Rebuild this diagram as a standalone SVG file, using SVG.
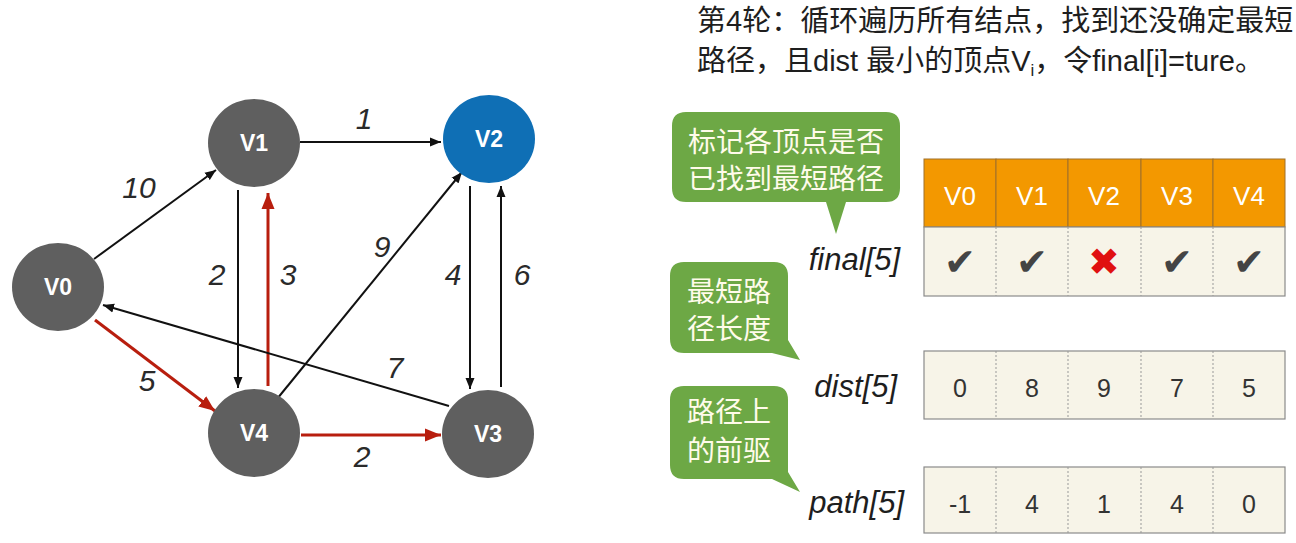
<svg xmlns="http://www.w3.org/2000/svg" width="1296" height="543" viewBox="0 0 1296 543">
<defs>
<style>
.node{fill:#5f5f5f}
.nl{font-family:"Liberation Sans",Arial,sans-serif;font-size:23px;font-weight:bold;fill:#fff;text-anchor:middle}
.e{fill:none;stroke:#111;stroke-width:2}
.er{fill:none;stroke:#B81E0E;stroke-width:3}
.el{font-family:"Liberation Sans",Arial,sans-serif;font-size:30px;font-style:italic;fill:#2a2a2a;text-anchor:middle}
.title{font-family:"Liberation Sans","Noto Sans CJK SC",sans-serif;font-size:29px;fill:#1e1e1e}
.co{fill:#6DA845}
.ct{font-family:"Noto Sans CJK SC",sans-serif;font-size:28px;fill:#FFFBEA;text-anchor:middle}
.lab{font-family:"Liberation Sans",Arial,sans-serif;font-size:31px;font-style:italic;fill:#1e1e1e;text-anchor:end}
.hd{fill:#F39800;stroke:#A0702A;stroke-width:1}
.ht{font-family:"Liberation Sans",Arial,sans-serif;font-size:26px;fill:#fff;text-anchor:middle}
.cell{fill:#F7F4E8;stroke:#8a8a8a;stroke-width:1.2}
.dv{stroke:#999;stroke-width:1;stroke-dasharray:2 2}
.v{font-family:"Liberation Sans",Arial,sans-serif;font-size:25px;fill:#333;text-anchor:middle}
.ck{font-family:"DejaVu Sans",sans-serif;font-size:38px;fill:#444;text-anchor:middle}
.x{font-family:"DejaVu Sans",sans-serif;font-size:38px;fill:#E01010;text-anchor:middle}
</style>
<marker id="ab" markerUnits="userSpaceOnUse" markerWidth="12" markerHeight="10" refX="11" refY="5" orient="auto"><path d="M0,0.5 L11,5 L0,9.5 z" fill="#111"/></marker>
<marker id="ar" markerUnits="userSpaceOnUse" markerWidth="17" markerHeight="14" refX="16" refY="7" orient="auto"><path d="M0,0.5 L16,7 L0,13.5 z" fill="#B81E0E"/></marker>
</defs>
<rect width="1296" height="543" fill="#fff"/>

<g id="connectors">
<path class="e" d="M94,259 L216,170" marker-end="url(#ab)"/>
<text class="el" x="139" y="198">10</text>
<path class="e" d="M300,142 L441,142" marker-end="url(#ab)"/>
<text class="el" x="364" y="129">1</text>
<path class="e" d="M238,190 L238,388" marker-end="url(#ab)"/>
<text class="el" x="217" y="285">2</text>
<path class="er" d="M268,386 L268,193" marker-end="url(#ar)"/>
<text class="el" x="288" y="285">3</text>
<path class="e" d="M277,399 L462,172" marker-end="url(#ab)"/>
<text class="el" x="382" y="257">9</text>
<path class="e" d="M470,186 L470,389" marker-end="url(#ab)"/>
<text class="el" x="453" y="285">4</text>
<path class="e" d="M501,387 L501,186" marker-end="url(#ab)"/>
<text class="el" x="522" y="285">6</text>
<path class="e" d="M449,406 L103,305" marker-end="url(#ab)"/>
<text class="el" x="395" y="378">7</text>
<path class="er" d="M95,320 L215,411" marker-end="url(#ar)"/>
<text class="el" x="147" y="391">5</text>
<path class="er" d="M301,435 L441,435" marker-end="url(#ar)"/>
<text class="el" x="362" y="467">2</text>
</g>

<g id="V0"><ellipse class="node" cx="58" cy="287" rx="46" ry="44"/><text class="nl" x="58" y="295">V0</text></g>
<g id="V1"><ellipse class="node" cx="254" cy="143" rx="46" ry="44"/><text class="nl" x="254" y="151">V1</text></g>
<g id="V2"><ellipse cx="489" cy="139" rx="46" ry="44" fill="#0F6FB5"/><text class="nl" x="489" y="147">V2</text></g>
<g id="V3"><ellipse class="node" cx="488" cy="434" rx="46" ry="44"/><text class="nl" x="488" y="442">V3</text></g>
<g id="V4"><ellipse class="node" cx="254" cy="433" rx="46" ry="44"/><text class="nl" x="254" y="441">V4</text></g>

<g id="title">
<text class="title" x="697" y="31">第4轮：循环遍历所有结点，找到还没确定最短</text>
<text class="title" x="697" y="71">路径，且dist 最小的顶点V<tspan font-size="17" dy="5">i</tspan><tspan dy="-5">，令final[i]=ture。</tspan></text>
</g>

<g id="callout-final">
<path class="co" d="M686,112 H886 Q900,112 900,126 V188 Q900,202 886,202 H846 L836,234 L826,202 H686 Q672,202 672,188 V126 Q672,112 686,112 Z"/>
<text class="ct" x="786" y="152">标记各顶点是否</text>
<text class="ct" x="786" y="189">已找到最短路径</text>
</g>
<g id="callout-dist">
<path class="co" d="M684,262 H774 Q788,262 788,276 V340 L800,360 L772,353 H684 Q670,353 670,339 V276 Q670,262 684,262 Z"/>
<text class="ct" x="729" y="302">最短路</text>
<text class="ct" x="729" y="339">径长度</text>
</g>
<g id="callout-path">
<path class="co" d="M684,386 H774 Q788,386 788,400 V472 L800,492 L772,479 H684 Q670,479 670,465 V400 Q670,386 684,386 Z"/>
<text class="ct" x="729" y="422">路径上</text>
<text class="ct" x="729" y="461">的前驱</text>
</g>

<g id="table-final">
<rect class="hd" x="924" y="159" width="72" height="68"/>
<rect class="hd" x="996" y="159" width="72" height="68"/>
<rect class="hd" x="1068" y="159" width="73" height="68"/>
<rect class="hd" x="1141" y="159" width="72" height="68"/>
<rect class="hd" x="1213" y="159" width="72" height="68"/>
<text class="ht" x="960" y="205">V0</text>
<text class="ht" x="1032" y="205">V1</text>
<text class="ht" x="1104" y="205">V2</text>
<text class="ht" x="1177" y="205">V3</text>
<text class="ht" x="1249" y="205">V4</text>
<rect class="cell" x="924" y="227" width="361" height="69"/>
<line class="dv" x1="996" y1="227" x2="996" y2="296"/>
<line class="dv" x1="1068" y1="227" x2="1068" y2="296"/>
<line class="dv" x1="1141" y1="227" x2="1141" y2="296"/>
<line class="dv" x1="1213" y1="227" x2="1213" y2="296"/>
<text class="ck" x="960" y="275">✔</text>
<text class="ck" x="1032" y="275">✔</text>
<text class="x" x="1104" y="275">✖</text>
<text class="ck" x="1177" y="275">✔</text>
<text class="ck" x="1249" y="275">✔</text>
<text class="lab" x="900" y="270">final[5]</text>
</g>

<g id="table-dist">
<rect class="cell" x="924" y="351" width="361" height="68"/>
<line class="dv" x1="996" y1="351" x2="996" y2="419"/>
<line class="dv" x1="1068" y1="351" x2="1068" y2="419"/>
<line class="dv" x1="1141" y1="351" x2="1141" y2="419"/>
<line class="dv" x1="1213" y1="351" x2="1213" y2="419"/>
<text class="v" x="960" y="397">0</text>
<text class="v" x="1032" y="397">8</text>
<text class="v" x="1104" y="397">9</text>
<text class="v" x="1177" y="397">7</text>
<text class="v" x="1249" y="397">5</text>
<text class="lab" x="897" y="397">dist[5]</text>
</g>

<g id="table-path">
<rect class="cell" x="924" y="467" width="361" height="66"/>
<line class="dv" x1="996" y1="467" x2="996" y2="533"/>
<line class="dv" x1="1068" y1="467" x2="1068" y2="533"/>
<line class="dv" x1="1141" y1="467" x2="1141" y2="533"/>
<line class="dv" x1="1213" y1="467" x2="1213" y2="533"/>
<text class="v" x="960" y="513">-1</text>
<text class="v" x="1032" y="513">4</text>
<text class="v" x="1104" y="513">1</text>
<text class="v" x="1177" y="513">4</text>
<text class="v" x="1249" y="513">0</text>
<text class="lab" x="904" y="513">path[5]</text>
</g>
</svg>
